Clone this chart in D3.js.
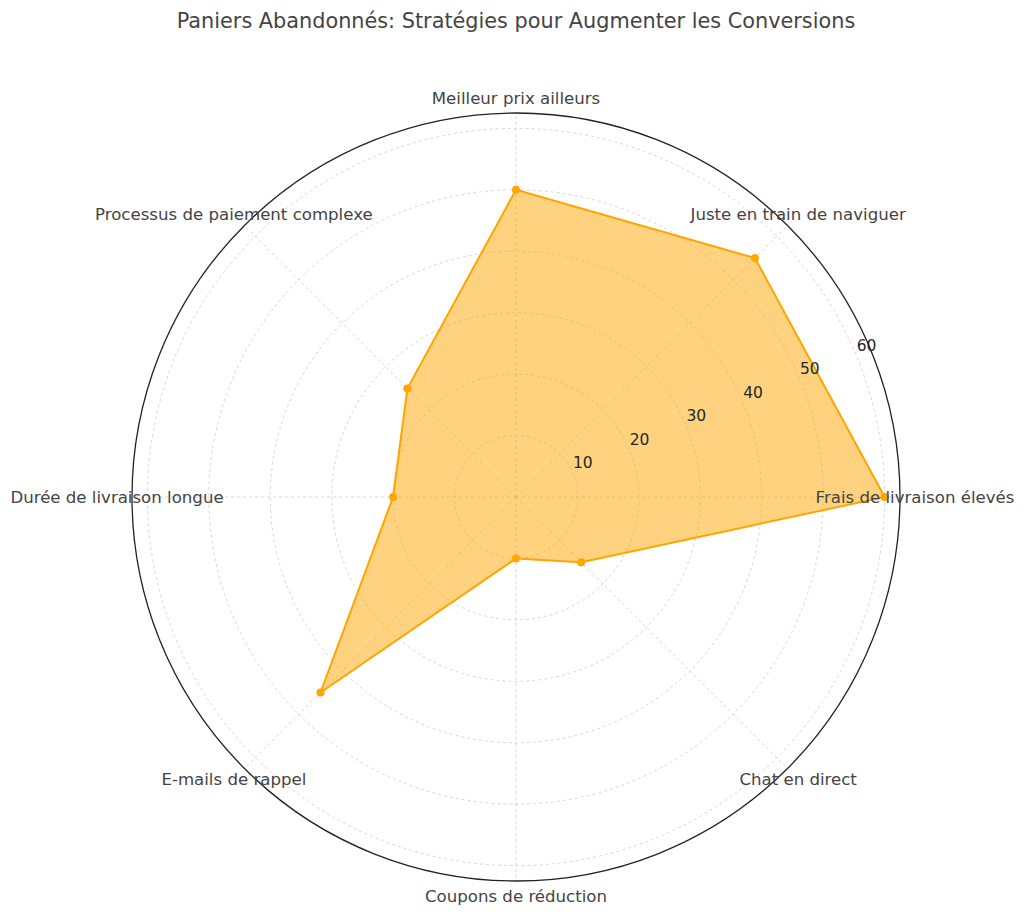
<!DOCTYPE html>
<html>
<head>
<meta charset="utf-8">
<script src="https://cdn.jsdelivr.net/npm/d3@7"></script>
<style>
  html, body { margin: 0; padding: 0; background: #fff; }
  svg { display: block; font-family: "DejaVu Sans", sans-serif; }
</style>
</head>
<body>
<svg id="chart" width="1024" height="914"></svg>
<script>
// categories, going counter-clockwise from the right
const categories = [
    "Frais de livraison élevés",
    "Juste en train de naviguer",
    "Meilleur prix ailleurs",
    "Processus de paiement complexe",
    "Durée de livraison longue",
    "E-mails de rappel",
    "Coupons de réduction",
    "Chat en direct"
];
const values = [60, 55, 50, 25, 20, 45, 10, 15];
const radialTicks = [10, 20, 30, 40, 50, 60];
const rMax = 62.5;

const svg = d3.select("#chart");
const cx = 516, cy = 497, outerR = 384;

const r = d3.scaleLinear().domain([0, rMax]).range([0, outerR]);
const angle = d3.scaleLinear().domain([0, categories.length]).range([0, 2 * Math.PI]);

// screen position for angle (math convention, ccw from +x) and radius
function pos(a, rad) {
    return [cx + Math.cos(a) * rad, cy - Math.sin(a) * rad];
}

// title
svg.append("text")
    .attr("x", cx)
    .attr("y", 28)
    .attr("text-anchor", "middle")
    .attr("font-size", 20.8)
    .attr("fill", "#444")
    .text("Paniers Abandonnés: Stratégies pour Augmenter les Conversions");

const grid = svg.append("g");

// radial grid circles
grid.selectAll("circle.ring")
    .data(radialTicks)
    .join("circle")
    .attr("class", "ring")
    .attr("cx", cx)
    .attr("cy", cy)
    .attr("r", d => r(d))
    .attr("fill", "none")
    .attr("stroke", "#ccc")
    .attr("stroke-width", 0.8)
    .attr("stroke-dasharray", "3,3");

// spokes
grid.selectAll("line.spoke")
    .data(categories)
    .join("line")
    .attr("class", "spoke")
    .attr("x1", cx)
    .attr("y1", cy)
    .attr("x2", (d, i) => pos(angle(i), outerR)[0])
    .attr("y2", (d, i) => pos(angle(i), outerR)[1])
    .attr("stroke", "#ccc")
    .attr("stroke-width", 0.8)
    .attr("stroke-dasharray", "3,3");

// data polygon
const pts = values.map((v, i) => pos(angle(i), r(v)));
const line = d3.line().curve(d3.curveLinearClosed);

svg.append("path")
    .attr("d", line(pts))
    .attr("fill", "#FFA500")
    .attr("fill-opacity", 0.5)
    .attr("stroke", "#FFA500")
    .attr("stroke-width", 2)
    .attr("stroke-linejoin", "round");

svg.selectAll("circle.pt")
    .data(pts)
    .join("circle")
    .attr("class", "pt")
    .attr("cx", d => d[0])
    .attr("cy", d => d[1])
    .attr("r", 4)
    .attr("fill", "#FFA500");

// outer frame
svg.append("circle")
    .attr("cx", cx)
    .attr("cy", cy)
    .attr("r", outerR)
    .attr("fill", "none")
    .attr("stroke", "#222")
    .attr("stroke-width", 1.3);

// radial tick labels along 22.5 degrees
const labelAngle = Math.PI / 8;
svg.selectAll("text.rtick")
    .data(radialTicks)
    .join("text")
    .attr("class", "rtick")
    .attr("x", d => pos(labelAngle, r(d))[0] + 10)
    .attr("y", d => pos(labelAngle, r(d))[1] - 10)
    .attr("text-anchor", "middle")
    .attr("dominant-baseline", "central")
    .attr("font-size", 15.5)
    .attr("fill", "#262626")
    .text(d => d);

// category labels
svg.selectAll("text.cat")
    .data(categories)
    .join("text")
    .attr("class", "cat")
    .attr("x", (d, i) => pos(angle(i), 399)[0])
    .attr("y", (d, i) => pos(angle(i), 399)[1])
    .attr("text-anchor", "middle")
    .attr("dominant-baseline", "central")
    .attr("font-size", 16.6)
    .attr("fill", "#444")
    .text(d => d);
</script>
</body>
</html>
